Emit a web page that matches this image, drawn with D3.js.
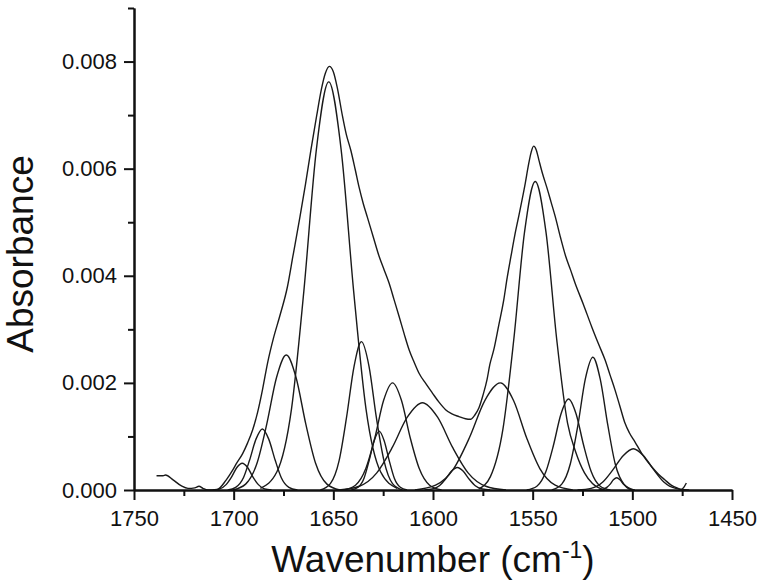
<!DOCTYPE html>
<html>
<head>
<meta charset="utf-8">
<script src="https://cdn.jsdelivr.net/npm/d3@7"></script>
<style>
  body { margin: 0; background: #fff; }
  svg { display: block; font-family: "Liberation Sans", Arial, sans-serif; }
</style>
</head>
<body>
<div id="chart"></div>
<script>
// Tick values
const xMajorTicks = [1750, 1700, 1650, 1600, 1550, 1500, 1450];
const xMinorTicks = [1725, 1675, 1625, 1575, 1525, 1475];
const yMajorTicks = [0, 0.002, 0.004, 0.006, 0.008];
const yMinorTicks = [0.001, 0.003, 0.005, 0.007, 0.009];

// Measured spectrum [wavenumber, absorbance]
const envelope = [
  [1738.7, 0.000267], [1735.4, 0.000267], [1734.2, 0.00028], [1730.4, 0.00019],
  [1726.2, 0.000075], [1722.9, 0.00003], [1719.5, 0.00004], [1717.4, 0.00007],
  [1715.4, 0.00003], [1712.9, 0.0], [1708.7, 0.0], [1703.7, 0.00019],
  [1700.5, 0.00037], [1698.5, 0.0005], [1695.5, 0.00068], [1693, 0.00088],
  [1690.5, 0.00112], [1688, 0.00145], [1685.5, 0.00188], [1683, 0.00237],
  [1680, 0.00284], [1677, 0.00323], [1673, 0.0038], [1670.3, 0.00436],
  [1666.7, 0.00511], [1664, 0.0057], [1661.2, 0.00636], [1658.4, 0.00698],
  [1656, 0.00748], [1654, 0.00778], [1652, 0.00791], [1650, 0.00781],
  [1648, 0.00751], [1645.4, 0.00698], [1643.5, 0.00664], [1641.2, 0.00634],
  [1639, 0.00598], [1637, 0.00564], [1635, 0.00535], [1632.9, 0.00509],
  [1630, 0.00473], [1627, 0.00436], [1624.5, 0.00411], [1622, 0.00386],
  [1619.5, 0.00355], [1617, 0.00324], [1614.5, 0.00292], [1612, 0.00262],
  [1609.5, 0.00239], [1607, 0.00218], [1603.5, 0.00198], [1600.3, 0.00181],
  [1597, 0.00164], [1593.7, 0.0015], [1590.5, 0.00142], [1587, 0.00137],
  [1583.7, 0.00133], [1581.2, 0.00132], [1579, 0.0014], [1577, 0.00153],
  [1575, 0.00176], [1572.9, 0.00206], [1571.5, 0.00234], [1569.5, 0.00262],
  [1567, 0.00308], [1564.5, 0.00355], [1562.8, 0.00396], [1560.9, 0.00436],
  [1559, 0.00475], [1557, 0.00511], [1555.3, 0.00542], [1553.7, 0.00573],
  [1552.2, 0.00605], [1550.8, 0.0063], [1549.5, 0.00642], [1548.2, 0.00635],
  [1546.8, 0.00615], [1545, 0.0059], [1542.9, 0.00565], [1540.8, 0.00538],
  [1538.7, 0.00511], [1536, 0.00471], [1533.4, 0.00436], [1531, 0.00411],
  [1528.7, 0.00386], [1524.5, 0.00346], [1520.4, 0.00305], [1517, 0.00273],
  [1513.7, 0.00243], [1511.2, 0.00215], [1508.7, 0.00187], [1506.2, 0.00156],
  [1503.7, 0.00125], [1501.5, 0.00107], [1498.7, 0.0009], [1495.4, 0.00069],
  [1490.4, 0.00044], [1487, 0.0003], [1483.7, 0.00019], [1480.5, 0.00009],
  [1477, 0.00003], [1475.4, 0.00001], [1474, 0.00006], [1472.9, 0.00013]
];

// Fitted component bands [wavenumber, absorbance]
const band1 = [[1710.5, 0], [1707, 0.00002], [1703.8, 0.0001], [1701.1, 0.00024], [1698.4, 0.00042], [1695.7, 0.0005], [1693, 0.00042], [1690.3, 0.00024], [1687.6, 0.0001], [1684.5, 0.00002], [1681, 0]];
const band2 = [[1703, 0], [1699, 0.00005], [1695.1, 0.00023], [1692, 0.00056], [1688.8, 0.00095], [1685.6, 0.00114], [1682.4, 0.00095], [1679.2, 0.00056], [1676.1, 0.00023], [1672.3, 0.00005], [1668, 0]];
const band3 = [[1700.5, 0], [1694, 0.00011], [1688.3, 0.0005], [1683.4, 0.00123], [1678.5, 0.0021], [1673.6, 0.00252], [1668.7, 0.0021], [1663.8, 0.00123], [1658.9, 0.0005], [1653.2, 0.00011], [1646.7, 0]];
const band4 = [[1686.6, 0.00003], [1678.3, 0.00034], [1671, 0.00151], [1664.8, 0.00371], [1658.5, 0.00636], [1652.3, 0.00762], [1646.1, 0.00636], [1639.8, 0.00371], [1633.6, 0.00151], [1626.3, 0.00034], [1618, 0.00003]];
const band5 = [[1656.5, 0], [1651.5, 0.00012], [1647.1, 0.00055], [1643.4, 0.00135], [1639.6, 0.00231], [1635.9, 0.00277], [1632.1, 0.00231], [1628.4, 0.00135], [1624.6, 0.00055], [1620.3, 0.00012], [1615.3, 0]];
const band6 = [[1641, 0], [1637.6, 0.00005], [1634.6, 0.00022], [1632.1, 0.00054], [1629.5, 0.00092], [1627, 0.0011], [1624.5, 0.00092], [1621.9, 0.00054], [1619.4, 0.00022], [1616.4, 0.00005], [1613, 0]];
const band7 = [[1644.9, 0], [1638.9, 0.00009], [1633.7, 0.0004], [1629.2, 0.00097], [1624.8, 0.00167], [1620.3, 0.002], [1615.8, 0.00167], [1611.4, 0.00097], [1606.9, 0.0004], [1601.7, 0.00009], [1595.7, 0]];
const band8 = [[1647.2, 0], [1637, 0.00007], [1628.2, 0.00032], [1620.5, 0.00079], [1612.9, 0.00136], [1605.3, 0.00163], [1597.7, 0.00136], [1590.1, 0.00079], [1582.4, 0.00032], [1573.5, 0.00007], [1563.4, 0]];
const band9 = [[1604.3, 0], [1600.3, 0.00002], [1596.8, 0.00008], [1593.8, 0.0002], [1590.8, 0.00035], [1587.8, 0.00042], [1584.8, 0.00035], [1581.8, 0.0002], [1578.8, 0.00008], [1575.3, 0.00002], [1571.3, 0]];
const band10 = [[1609.1, 0], [1598.7, 0.00009], [1589.6, 0.0004], [1581.8, 0.00097], [1574, 0.00167], [1566.2, 0.002], [1559.6, 0.00167], [1553, 0.00097], [1546.4, 0.0004], [1538.7, 0.00009], [1529.9, 0]];
const band11 = [[1577, 0.00002], [1571.2, 0.00025], [1564.9, 0.00114], [1559.5, 0.0028], [1554.1, 0.00481], [1548.7, 0.00576], [1543.3, 0.00481], [1537.9, 0.0028], [1532.5, 0.00125], [1528.5, 0.00072], [1524, 0.00032], [1520, 0.00012], [1514, 0]];
const band12 = [[1553, 0], [1547.9, 0.00007], [1543.4, 0.00034], [1539.6, 0.00083], [1535.8, 0.00142], [1532, 0.0017], [1528.2, 0.00142], [1524.4, 0.00083], [1520.6, 0.00034], [1516.1, 0.00007], [1511, 0]];
const band13 = [[1540.4, 0], [1535.4, 0.00011], [1531.1, 0.00049], [1527.3, 0.00121], [1523.6, 0.00207], [1519.8, 0.00248], [1516.1, 0.00207], [1512.3, 0.00121], [1508.6, 0.00049], [1504.2, 0.00011], [1499.2, 0]];
const band14 = [[1516.9, 0], [1514.7, 0.00001], [1512.8, 0.00005], [1511.1, 0.00011], [1509.5, 0.00019], [1507.8, 0.00023], [1506.2, 0.00019], [1504.5, 0.00011], [1502.8, 0.00005], [1500.9, 0.00001], [1498.7, 0]];
const band15 = [[1527.5, 0], [1520.7, 0.00003], [1514.8, 0.00015], [1509.7, 0.00038], [1504.6, 0.00064], [1499.5, 0.00077], [1494.4, 0.00064], [1489.3, 0.00038], [1484.2, 0.00015], [1478.2, 0.00003], [1471.5, 0]];

const bands = [band1, band2, band3, band4, band5, band6, band7, band8,
               band9, band10, band11, band12, band13, band14, band15];

// Set the dimensions and margins of the graph
const margin = { top: 8, right: 32, bottom: 98, left: 134 },
    width = 764 - margin.left - margin.right,
    height = 588 - margin.top - margin.bottom;

const svg = d3.select("#chart")
    .append("svg")
    .attr("width", 764)
    .attr("height", 588)
    .append("g")
    .attr("transform", `translate(${margin.left},${margin.top})`);

const xScale = d3.scaleLinear().domain([1750, 1450]).range([0, width]);
const yScale = d3.scaleLinear().domain([0, 0.009]).range([height, 0]);

const line = d3.line()
    .x(d => xScale(d[0]))
    .y(d => yScale(d[1]))
    .curve(d3.curveMonotoneX);

// Component bands
svg.selectAll(".band")
    .data(bands)
    .enter().append("path")
    .attr("class", "band")
    .attr("d", line)
    .attr("fill", "none")
    .attr("stroke", "#1a1a1a")
    .attr("stroke-width", 1.4);

// Envelope
svg.append("path")
    .datum(envelope)
    .attr("d", line)
    .attr("fill", "none")
    .attr("stroke", "#1a1a1a")
    .attr("stroke-width", 1.4);

// X axis: minor then major ticks
svg.append("g")
    .attr("transform", `translate(0,${height})`)
    .call(d3.axisBottom(xScale).tickValues(xMinorTicks).tickSize(6).tickSizeOuter(0).tickFormat(""));

svg.append("g")
    .attr("transform", `translate(0,${height})`)
    .call(d3.axisBottom(xScale).tickValues(xMajorTicks).tickSize(10).tickSizeOuter(0)
        .tickPadding(10).tickFormat(d3.format("d")));

// Y axis: minor then major ticks
svg.append("g")
    .call(d3.axisLeft(yScale).tickValues(yMinorTicks).tickSize(6).tickSizeOuter(0).tickFormat(""));

svg.append("g")
    .call(d3.axisLeft(yScale).tickValues(yMajorTicks).tickSize(10).tickSizeOuter(0)
        .tickPadding(7).tickFormat(d3.format(".3f")));

svg.selectAll(".domain, .tick line")
    .attr("stroke", "#111")
    .attr("stroke-width", 2);

svg.selectAll(".tick text")
    .attr("fill", "#111")
    .style("font-size", "22px")
    .style("font-family", "\"Liberation Sans\", Arial, sans-serif");

// Axis titles
const xTitle = svg.append("text")
    .attr("x", width / 2)
    .attr("y", 564)
    .attr("text-anchor", "middle")
    .attr("fill", "#111")
    .style("font-size", "37px");
xTitle.append("tspan").text("Wavenumber (cm");
xTitle.append("tspan").attr("dy", -14).style("font-size", "23px").text("-1");
xTitle.append("tspan").attr("dy", 14).text(")");

svg.append("text")
    .attr("transform", `translate(${33 - margin.left},${254 - margin.top}) rotate(-90)`)
    .attr("text-anchor", "middle")
    .attr("fill", "#111")
    .style("font-size", "37px")
    .text("Absorbance");
</script>
</body>
</html>
